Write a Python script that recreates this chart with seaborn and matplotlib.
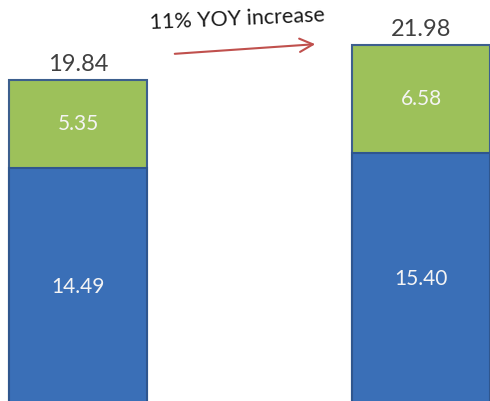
import matplotlib
matplotlib.use("Agg")
import matplotlib.pyplot as plt
import pandas as pd
import seaborn as sns

# data
periods = ["Year 1", "Year 2"]
base_vals = [14.49, 15.40]
top_vals = [5.35, 6.58]
totals = [19.84, 21.98]
note = "11% YOY increase"

sns.set_style("white")
plt.rcParams["font.family"] = ["Lato", "DejaVu Sans"]

df = pd.DataFrame({"period": periods, "base": base_vals, "top": top_vals, "total": totals})

fig = plt.figure(figsize=(4.9, 4.01), dpi=100)
ax = fig.add_axes([0, 0, 1, 1])

blue = "#3a6fb7"
green = "#9dc15a"
edge = "#3d5f8e"

# stacked: draw total in green, then blue base on top of it
sns.barplot(data=df, x="period", y="total", color=green, width=0.403,
            edgecolor=edge, linewidth=1.5, saturation=1, ax=ax)
sns.barplot(data=df, x="period", y="base", color=blue, width=0.403,
            edgecolor="#2f568e", linewidth=1.5, saturation=1, ax=ax)

ax.set_xlim(-0.229, 1.2015)
ax.set_ylim(0.28, 24.73)
ax.axis("off")

for i in range(len(periods)):
    ax.text(i, base_vals[i] / 2, f"{base_vals[i]:.2f}", ha="center", va="center",
            color="#f4f4f4", fontsize=15)
    ax.text(i, base_vals[i] + top_vals[i] / 2, f"{top_vals[i]:.2f}", ha="center",
            va="center", color="#f4f4f4", fontsize=15)
    ax.text(i, totals[i] + 0.3, f"{totals[i]:.2f}", ha="center", va="bottom",
            color="#404040", fontsize=17)

# growth arrow
ax.annotate("", xy=(318 / 490, 1 - 44 / 401), xytext=(172 / 490, 1 - 54 / 401),
            xycoords="axes fraction", textcoords="axes fraction",
            arrowprops=dict(arrowstyle="->", color="#c0504d", lw=1.5,
                            mutation_scale=24))
ax.text(237 / 490, 1 - 19 / 401, note, transform=ax.transAxes, ha="center",
        va="center", fontsize=15.5, color="#1a1a1a", rotation=2.5)

fig.savefig("out.png", dpi=100)
